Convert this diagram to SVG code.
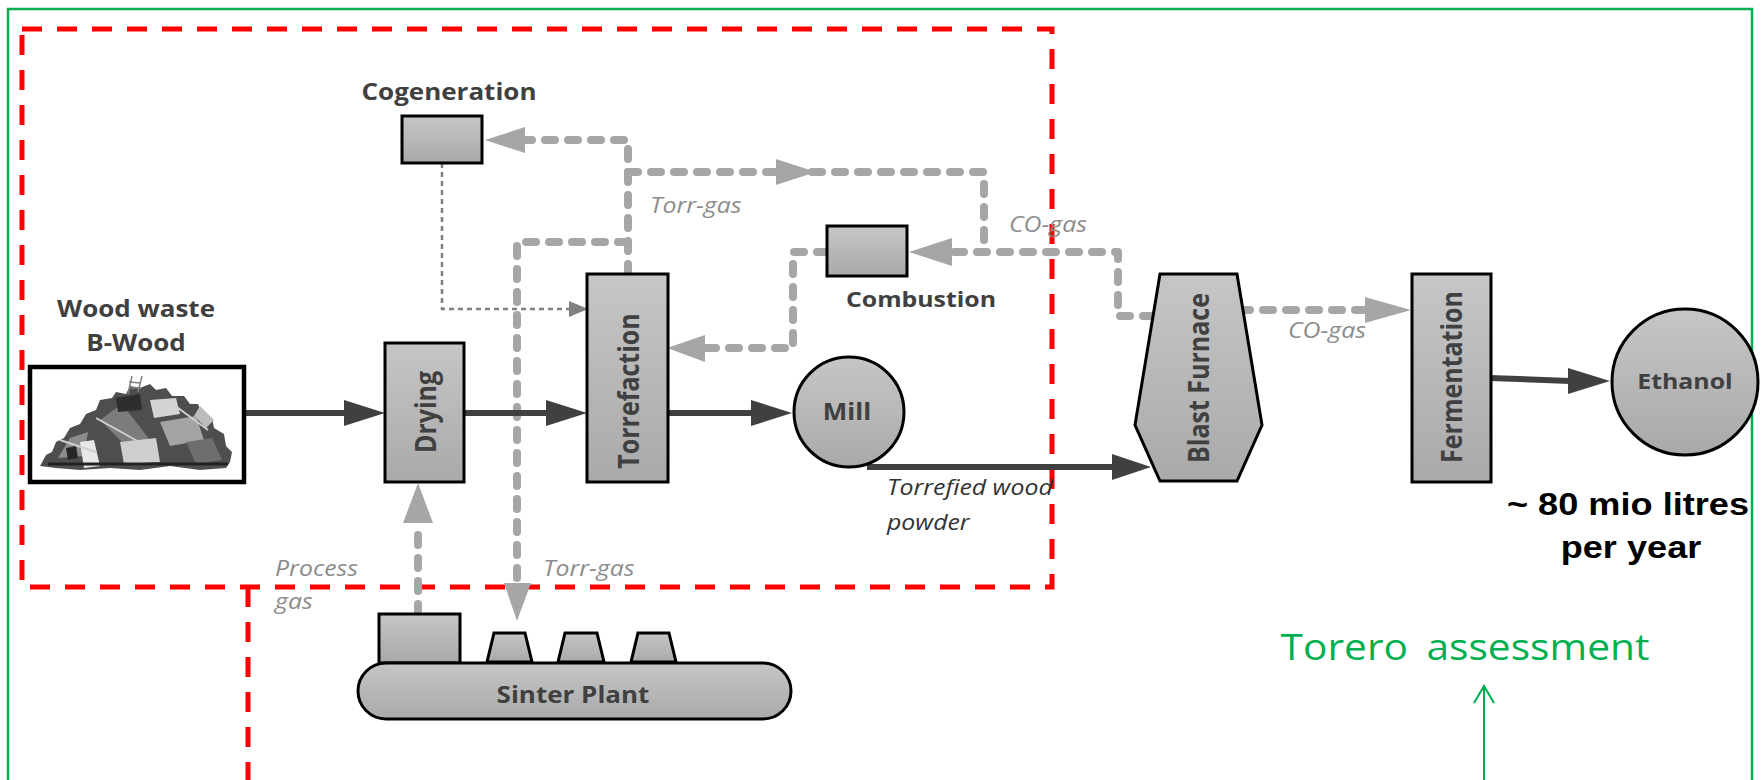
<svg xmlns="http://www.w3.org/2000/svg" width="1762" height="780" viewBox="0 0 1762 780">
<defs>
<linearGradient id="gf" x1="0" y1="0" x2="0" y2="1">
<stop offset="0" stop-color="#c6c6c6"/>
<stop offset="1" stop-color="#a9a9a9"/>
</linearGradient>
<style>
.node{fill:url(#gf);stroke:#000;stroke-width:3}
.lbl{font-family:"Open Sans","Noto Sans",sans-serif;font-weight:bold;fill:#404040}
.gl{font-family:"Open Sans","Noto Sans",sans-serif;font-style:italic;fill:#8c8c8c;font-size:22px}
.gas{fill:none;stroke:#a6a6a6;stroke-width:8;stroke-dasharray:10 13;stroke-linecap:round;stroke-linejoin:round}
.gh{fill:#a6a6a6}
.main{fill:none;stroke:#404040;stroke-width:6}
.mh{fill:#404040}
.dot{fill:none;stroke:#808080;stroke-width:2.5;stroke-dasharray:5 4}
.dh{fill:#808080}
</style>
</defs>
<rect width="1762" height="780" fill="#fff"/>
<rect x="8" y="9" width="1744" height="800" fill="none" stroke="#00b050" stroke-width="2.5"/>
<g id="scope" fill="none" stroke="#ff0000" stroke-width="5" stroke-dasharray="20 15">
<rect x="22" y="29" width="1030" height="558"/>
<path d="M248,587 V780"/>
</g>

<g id="connectors">
<path class="gas" d="M628,274 V140 H525"/>
<path class="gas" d="M628,172 H984 V252"/>
<path class="gas" d="M1153,316 H1118 V252 H952"/>
<path class="gas" d="M827,252 H793 V348 H705"/>
<path class="gas" d="M628,242 H517 V583"/>
<path class="gas" d="M418,614 V523"/>
<path class="gas" d="M1240,310 H1365"/>
<polygon class="gh" points="485,140 525,127 525,153"/>
<polygon class="gh" points="816,172 776,159 776,185"/>
<polygon class="gh" points="909,252 952,238 952,266"/>
<polygon class="gh" points="667,348 705,335 705,362"/>
<polygon class="gh" points="517,621 504,583 531,583"/>
<polygon class="gh" points="418,483 403,523 433,523"/>
<polygon class="gh" points="1411,310 1365,297 1365,323"/>
<path class="dot" d="M442,163 V309 H570"/>
<polygon class="dh" points="588,309 569,301 569,317"/>
<path class="main" d="M244,413 H346"/>
<polygon class="mh" points="385,413 344,400 344,426"/>
<path class="main" d="M464,413 H548"/>
<polygon class="mh" points="587,413 546,400 546,426"/>
<path class="main" d="M668,413 H753"/>
<polygon class="mh" points="792,413 751,400 751,426"/>
<path class="main" d="M867,467 H1114"/>
<polygon class="mh" points="1151,467 1112,454 1112,480"/>
<path class="main" d="M1490,378 L1570,381"/>
<polygon class="mh" points="1610,381 1568,368 1568,394"/>
</g>

<g id="cogeneration">
<rect class="node" x="402" y="116" width="80" height="47"/>
<text class="lbl" font-size="23" text-anchor="middle" transform="translate(449 100) scale(1.13 1)">Cogeneration</text>
</g>

<g id="wood-waste">
<text class="lbl" font-size="23" text-anchor="middle" transform="translate(136 317) scale(1.13 1)">Wood waste</text>
<text class="lbl" font-size="23" text-anchor="middle" transform="translate(136 351) scale(1.13 1)">B-Wood</text>
<rect x="30" y="367" width="214" height="115" fill="#fff" stroke="#000" stroke-width="4.5"/>
<g id="debris">
<path d="M40,466 L46,455 L52,452 L56,442 L64,438 L70,428 L80,424 L86,414 L96,410 L100,400 L112,398 L116,392 L126,394 L130,386 L140,388 L150,384 L156,390 L166,388 L172,396 L184,396 L190,404 L198,404 L202,414 L212,418 L214,428 L224,434 L226,446 L232,452 L230,462 L226,468 L200,470 L170,466 L140,470 L110,468 L80,470 L56,468 Z" fill="#4e4e4e"/>
<path d="M58,458 L70,438 L88,432 L84,456 Z" fill="#8c8c8c"/>
<path d="M80,442 L94,440 L100,466 L84,468 Z" fill="#e8e8e8"/>
<path d="M100,420 L122,404 L150,440 L132,452 Z" fill="#7c7c7c"/>
<path d="M116,398 L140,394 L142,410 L118,412 Z" fill="#2e2e2e"/>
<path d="M150,400 L176,398 L180,414 L154,418 Z" fill="#d4d4d4"/>
<path d="M160,422 L196,416 L204,440 L170,446 Z" fill="#a4a4a4"/>
<path d="M186,442 L212,438 L222,460 L196,464 Z" fill="#6e6e6e"/>
<path d="M120,442 L156,438 L160,462 L124,464 Z" fill="#cfcfcf"/>
<path d="M200,406 L214,420 L206,428 L194,416 Z" fill="#bcbcbc"/>
<path d="M66,448 L76,446 L78,458 L68,460 Z" fill="#262626"/>
<path d="M48,464 L228,464" stroke="#222" stroke-width="3"/>
<path d="M128,394 L132,376 M138,392 L142,376 M129,382 L141,383 M130,388 L141,388" stroke="#808080" stroke-width="1.5" fill="none"/>
<path d="M96,418 L150,448 M170,402 L208,430 M60,440 L96,452" stroke="#d0d0d0" stroke-width="2" fill="none"/>
</g>
</g>

<g id="drying">
<rect class="node" x="385" y="343" width="79" height="139"/>
<text class="lbl" font-size="25" text-anchor="middle" dominant-baseline="central" transform="translate(425 412) scale(1.13 1) rotate(-90)">Drying</text>
</g>

<g id="torrefaction">
<rect class="node" x="587" y="274" width="81" height="208"/>
<text class="lbl" font-size="25" text-anchor="middle" dominant-baseline="central" transform="translate(628 391) scale(1.13 1) rotate(-90)">Torrefaction</text>
</g>

<g id="combustion">
<rect class="node" x="827" y="226" width="80" height="50"/>
<text class="lbl" font-size="22" text-anchor="middle" transform="translate(921 307) scale(1.13 1)">Combustion</text>
</g>

<g id="mill">
<circle class="node" cx="849" cy="412" r="55"/>
<text class="lbl" font-size="23" text-anchor="middle" transform="translate(847 420) scale(1.13 1)">Mill</text>
</g>

<g id="blast-furnace">
<polygon class="node" points="1160,274 1237,274 1262,425 1237,481 1160,481 1135,425"/>
<text class="lbl" font-size="25" text-anchor="middle" dominant-baseline="central" transform="translate(1198 378) scale(1.13 1) rotate(-90)">Blast Furnace</text>
</g>

<g id="fermentation">
<rect class="node" x="1412" y="274" width="79" height="208"/>
<text class="lbl" font-size="25" text-anchor="middle" dominant-baseline="central" transform="translate(1451 377) scale(1.13 1) rotate(-90)">Fermentation</text>
</g>

<g id="ethanol">
<circle class="node" cx="1685" cy="382" r="73"/>
<text class="lbl" font-size="22" text-anchor="middle" transform="translate(1685 389) scale(1.13 1)">Ethanol</text>
</g>

<g id="sinter-plant">
<rect class="node" x="379" y="614" width="81" height="49"/>
<polygon class="node" points="494,633 525,633 532,662 487,662"/>
<polygon class="node" points="565,633 597,633 604,662 558,662"/>
<polygon class="node" points="638,633 669,633 676,662 631,662"/>
<rect class="node" x="358" y="663" width="433" height="56" rx="28"/>
<text class="lbl" font-size="23" text-anchor="middle" transform="translate(573 703) scale(1.13 1)">Sinter Plant</text>
</g>

<g id="labels">
<text class="gl" transform="translate(650 213) scale(1.13 1)">Torr-gas</text>
<text class="gl" transform="translate(1009 232) scale(1.13 1)">CO-gas</text>
<text class="gl" transform="translate(1288 338) scale(1.13 1)">CO-gas</text>
<text class="gl" transform="translate(275 576) scale(1.13 1)">Process</text>
<text class="gl" transform="translate(275 609) scale(1.13 1)">gas</text>
<text class="gl" transform="translate(543 576) scale(1.13 1)">Torr-gas</text>
<text class="gl" style="fill:#333" transform="translate(887 495) scale(1.13 1)">Torrefied wood</text>
<text class="gl" style="fill:#333" transform="translate(887 530) scale(1.13 1)">powder</text>
<text font-family="'Liberation Sans',Arial,sans-serif" font-weight="bold" font-size="32" fill="#000" text-anchor="middle" transform="translate(1628 515) scale(1.13 1)">~ 80 mio litres</text>
<text font-family="'Liberation Sans',Arial,sans-serif" font-weight="bold" font-size="32" fill="#000" text-anchor="middle" transform="translate(1631 558) scale(1.13 1)">per year</text>
</g>

<g id="torero-assessment">
<text font-family="'Open Sans','Noto Sans',sans-serif" font-size="36" fill="#00b050" word-spacing="7" text-anchor="middle" transform="translate(1465 660) scale(1.13 1)">Torero assessment</text>
<path d="M1484,687 V780 M1474,703 L1484,686 L1494,703" fill="none" stroke="#00b050" stroke-width="2"/>
</g>
</svg>
